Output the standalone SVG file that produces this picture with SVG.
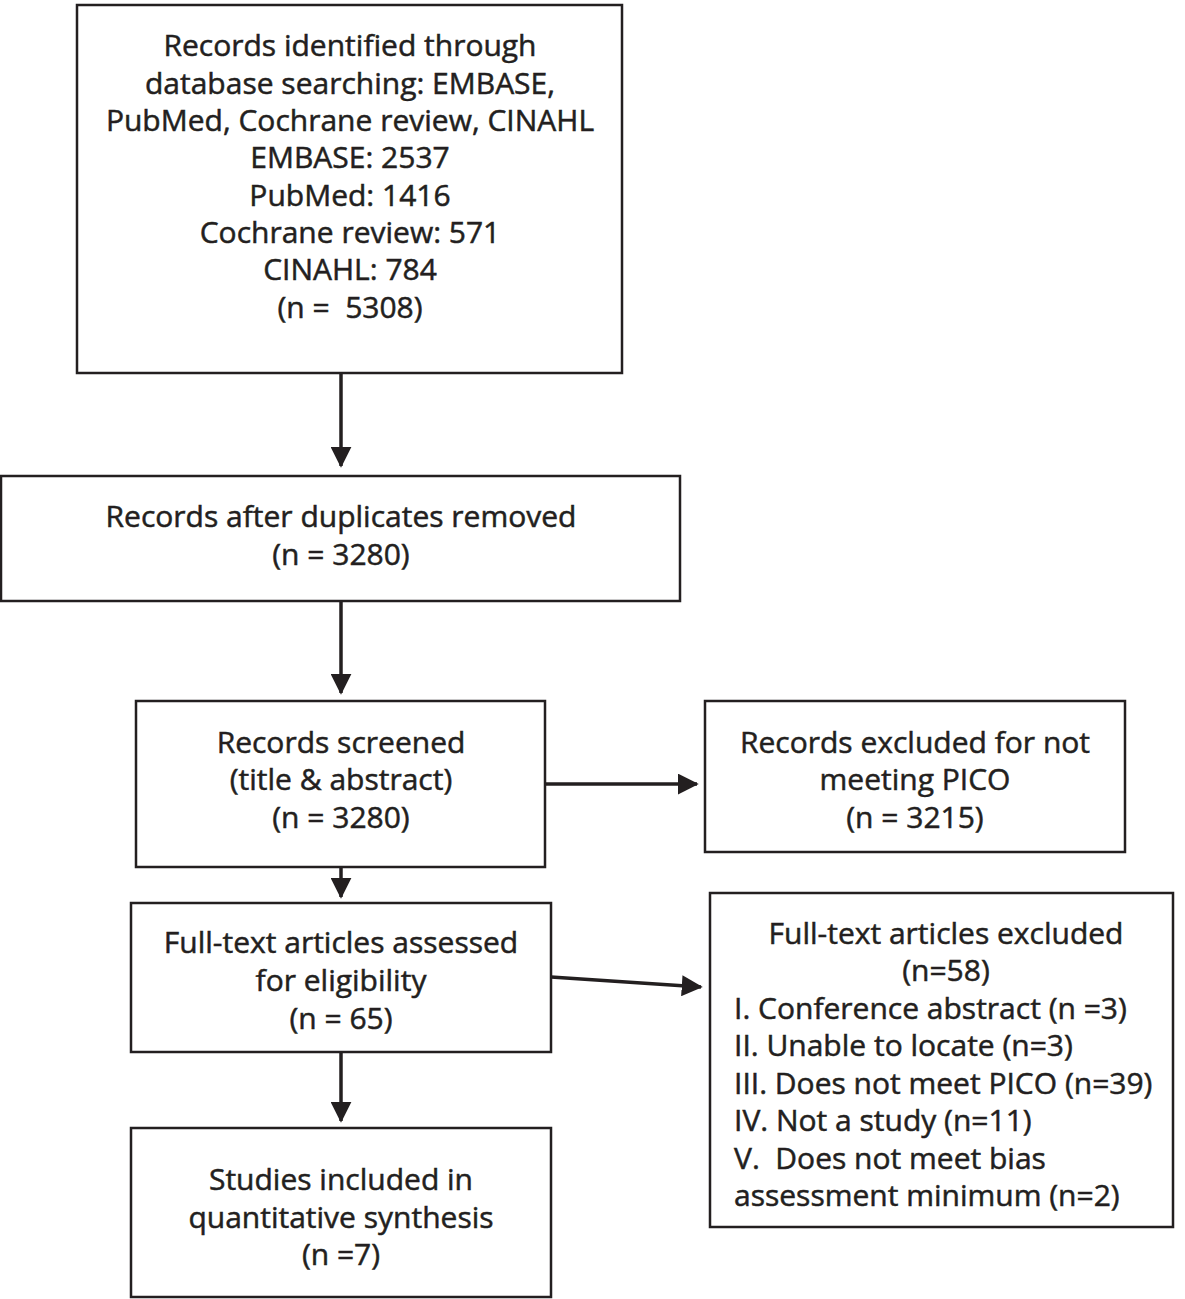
<svg xmlns="http://www.w3.org/2000/svg" width="1185" height="1299" viewBox="0 0 1185 1299">
<style>
.box{fill:#fff;stroke:#231f20;stroke-width:2.5}
.t{font-family:"Open Sans","Liberation Sans",sans-serif;font-size:30px;font-weight:500;fill:#231f20;stroke:#231f20;stroke-width:0.5;text-anchor:middle}
.l{text-anchor:start}
.c{stroke:#231f20;stroke-width:3.5;fill:none}
</style>
<defs>
<marker id="ah" markerWidth="6" markerHeight="6" refX="5.5" refY="3" orient="auto" markerUnits="strokeWidth">
<path d="M0,0 L6,3 L0,6 Z" fill="#231f20"/>
</marker>
</defs>
<rect width="1185" height="1299" fill="#fff"/>
<g id="connectors">
<line class="c" x1="341" y1="373" x2="341" y2="466" marker-end="url(#ah)"/>
<line class="c" x1="341" y1="601" x2="341" y2="693" marker-end="url(#ah)"/>
<line class="c" x1="545" y1="784" x2="697" y2="784" marker-end="url(#ah)"/>
<line class="c" x1="341" y1="867" x2="341" y2="897" marker-end="url(#ah)"/>
<line class="c" x1="551" y1="977" x2="701" y2="987" marker-end="url(#ah)"/>
<line class="c" x1="341" y1="1052" x2="341" y2="1121" marker-end="url(#ah)"/>
</g>
<g id="n1">
<rect class="box" x="77" y="5" width="545" height="368"/>
<text class="t" x="350" y="56">Records identified through</text>
<text class="t" x="350" y="94">database searching: EMBASE,</text>
<text class="t" x="350" y="131">PubMed, Cochrane review, CINAHL</text>
<text class="t" x="350" y="168">EMBASE: 2537</text>
<text class="t" x="350" y="206">PubMed: 1416</text>
<text class="t" x="350" y="243">Cochrane review: 571</text>
<text class="t" x="350" y="280">CINAHL: 784</text>
<text class="t" x="350" y="318" xml:space="preserve">(n =  5308)</text>
</g>
<g id="n2">
<rect class="box" x="1" y="476" width="679" height="125"/>
<text class="t" x="341" y="527">Records after duplicates removed</text>
<text class="t" x="341" y="565">(n = 3280)</text>
</g>
<g id="n3">
<rect class="box" x="136" y="701" width="409" height="166"/>
<text class="t" x="341" y="753">Records screened</text>
<text class="t" x="341" y="790">(title &amp; abstract)</text>
<text class="t" x="341" y="828">(n = 3280)</text>
</g>
<g id="n4">
<rect class="box" x="705" y="701" width="420" height="151"/>
<text class="t" x="915" y="753">Records excluded for not</text>
<text class="t" x="915" y="790">meeting PICO</text>
<text class="t" x="915" y="828">(n = 3215)</text>
</g>
<g id="n5">
<rect class="box" x="131" y="903" width="420" height="149"/>
<text class="t" x="341" y="953">Full-text articles assessed</text>
<text class="t" x="341" y="991">for eligibility</text>
<text class="t" x="341" y="1029">(n = 65)</text>
</g>
<g id="n6">
<rect class="box" x="710" y="893" width="463" height="334"/>
<text class="t" x="946" y="944">Full-text articles excluded</text>
<text class="t" x="946" y="981">(n=58)</text>
<text class="t l" x="734" y="1019">I. Conference abstract (n =3)</text>
<text class="t l" x="734" y="1056">II. Unable to locate (n=3)</text>
<text class="t l" x="734" y="1094">III. Does not meet PICO (n=39)</text>
<text class="t l" x="734" y="1131">IV. Not a study (n=11)</text>
<text class="t l" x="734" y="1169" xml:space="preserve">V.  Does not meet bias</text>
<text class="t l" x="734" y="1206">assessment minimum (n=2)</text>
</g>
<g id="n7">
<rect class="box" x="131" y="1128" width="420" height="169"/>
<text class="t" x="341" y="1190">Studies included in</text>
<text class="t" x="341" y="1228">quantitative synthesis</text>
<text class="t" x="341" y="1265">(n =7)</text>
</g>
</svg>
